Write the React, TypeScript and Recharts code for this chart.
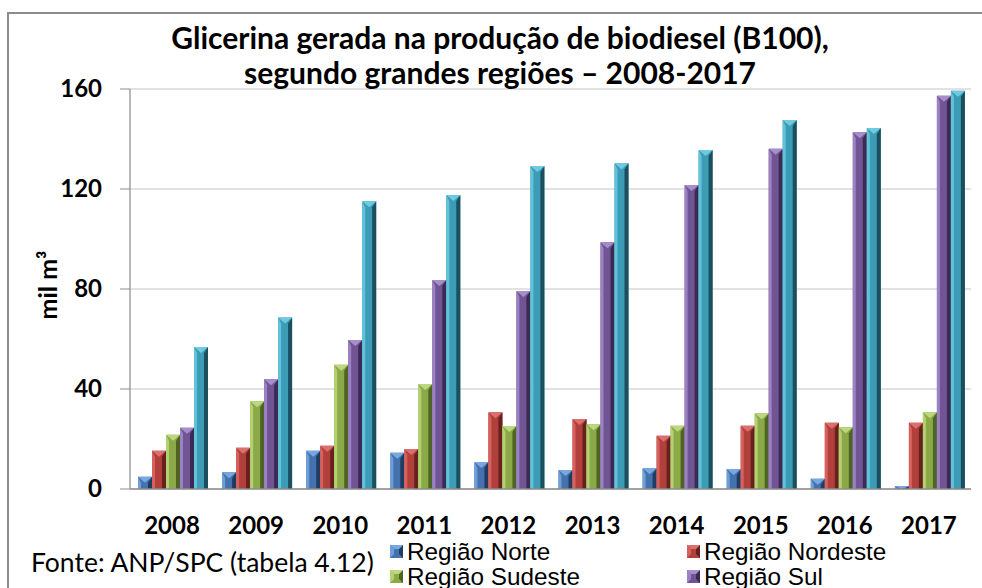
import React from 'react';
import { BarChart, Bar, XAxis, YAxis, CartesianGrid } from 'recharts';

const years = ['2008', '2009', '2010', '2011', '2012', '2013', '2014', '2015', '2016', '2017'];
const norte = [4.9, 6.7, 15.3, 14.5, 10.8, 7.6, 8.3, 8.0, 4.1, 1.2];
const nordeste = [15.3, 16.5, 17.3, 16.0, 30.7, 28.0, 21.3, 25.3, 26.5, 26.5];
const sudeste = [21.7, 35.1, 49.7, 42.0, 25.2, 25.9, 25.3, 30.3, 24.7, 30.7];
const sul = [24.5, 43.9, 59.6, 83.6, 79.2, 98.7, 121.6, 136.1, 142.7, 157.3];
const centroOeste = [56.8, 68.6, 115.1, 117.6, 129.2, 130.3, 135.6, 147.6, 144.4, 159.3];

const seriesKeys = ['norte', 'nordeste', 'sudeste', 'sul', 'centroOeste'];
const seriesNames = ['Região Norte', 'Região Nordeste', 'Região Sudeste', 'Região Sul', 'Região Centro-Oeste'];
const yTicks = [0, 40, 80, 120, 160];

const title1 = 'Glicerina gerada na produção de biodiesel (B100),';
const title2 = 'segundo grandes regiões – 2008-2017';
const yLabel = 'mil m³';
const source = 'Fonte: ANP/SPC (tabela 4.12)';

const palette = [
  { light: '#6F9FD9', body: '#4572AC', dark: '#213C63', top: '#79A8E0' },
  { light: '#D6625E', body: '#B13F3C', dark: '#66201E', top: '#DB716C' },
  { light: '#B3D072', body: '#8BAA47', dark: '#4D6424', top: '#BCD780' },
  { light: '#9C82C2', body: '#705494', dark: '#3B2A52', top: '#A68DCB' },
  { light: '#62C2DB', body: '#3C9BB5', dark: '#1B4F5E', top: '#6FCAE1' },
];

const data = years.map((y, i) => ({
  year: y,
  norte: norte[i],
  nordeste: nordeste[i],
  sudeste: sudeste[i],
  sul: sul[i],
  centroOeste: centroOeste[i],
}));

function BevelBar(props: any) {
  const { x, y, width: w, height: h, pal } = props;
  if (!(h > 0) || !(w > 0)) return null;
  const side = Math.min(3, w / 4);
  const rside = Math.min(4, w / 3);
  const tip = Math.min(6, h, w / 2);
  return (
    <g>
      <rect x={x} y={y} width={w} height={h} fill={pal.body} />
      <polygon points={`${x},${y} ${x + side},${y + tip} ${x + side},${y + h} ${x},${y + h}`} fill={pal.light} />
      <polygon points={`${x + w},${y} ${x + w - rside},${y + tip} ${x + w - rside},${y + h} ${x + w},${y + h}`} fill={pal.dark} />
      <polygon points={`${x},${y} ${x + w},${y} ${x + w / 2},${y + tip}`} fill={pal.top} />
    </g>
  );
}

function Marker({ pal }: any) {
  return (
    <svg width={13} height={13} style={{ display: 'inline-block', verticalAlign: 'middle' }}>
      <rect x={0} y={0} width={13} height={13} fill={pal.body} />
      <polygon points="0,0 4,4 4,9 0,13" fill={pal.light} />
      <polygon points="13,0 9,4 9,9 13,13" fill={pal.dark} />
      <polygon points="0,0 13,0 9,4 4,4" fill={pal.top} />
    </svg>
  );
}

const XTick = (props: any) => {
  const { x, payload } = props;
  return (
    <text x={x} y={534} textAnchor="middle" fontFamily="Lato" fontWeight={700} fontSize={24} fill="#000">
      {payload.value}
    </text>
  );
};

const YTick = (props: any) => {
  const { y, payload } = props;
  return (
    <text x={102} y={y + 8} textAnchor="end" fontFamily="Lato" fontWeight={700} fontSize={24} fill="#000">
      {payload.value}
    </text>
  );
};

// The reference legend is clipped by the picture's lower edge: only its first two rows are visible.
const visibleLegend = seriesNames.slice(0, 4);

export default function App() {
  return (
    <div style={{ position: 'absolute', left: 0, top: 0, width: 982, height: 588, overflow: 'hidden', background: '#fff' }}>
      <div style={{ position: 'absolute', left: 7, top: 12, width: 1000, height: 700, border: '2px solid #8c8c8c', boxSizing: 'border-box' }} />
      <BarChart
        width={982}
        height={588}
        data={data}
        margin={{ top: 89, right: 11, left: 0, bottom: 0 }}
        barCategoryGap={8}
        barGap={0}
      >
        <CartesianGrid vertical={false} stroke="#d9d9d9" strokeWidth={1.5} />
        <XAxis dataKey="year" height={99} tick={<XTick />} tickLine={false} axisLine={{ stroke: '#8c8c8c', strokeWidth: 1.5 }} interval={0} />
        <YAxis
          width={130}
          domain={[0, 160]}
          ticks={yTicks}
          tick={<YTick />}
          tickSize={10}
          tickLine={{ stroke: '#8c8c8c' }}
          axisLine={{ stroke: '#a0a0a0', strokeWidth: 1.5 }}
        />
        {seriesKeys.map((k, i) => (
          <Bar
            key={k}
            dataKey={k}
            name={seriesNames[i]}
            isAnimationActive={false}
            fill={palette[i].body}
            shape={(p: any) => <BevelBar {...p} pal={palette[i]} />}
          />
        ))}
      </BarChart>
      <svg style={{ position: 'absolute', left: 0, top: 0 }} width={982} height={588}>
        <text x={500} y={49} textAnchor="middle" fontFamily="Lato" fontWeight={700} fontSize={30} fill="#000">{title1}</text>
        <text x={500} y={84} textAnchor="middle" fontFamily="Lato" fontWeight={700} fontSize={30} fill="#000">{title2}</text>
        <text x={57} y={285} textAnchor="middle" transform="rotate(-90 57 285)" fontFamily="Lato" fontWeight={700} fontSize={25} fill="#000">{yLabel}</text>
        <text x={31} y={572} fontFamily="Lato" fontSize={26.5} fill="#000">{source}</text>
      </svg>
      <div style={{ position: 'absolute', left: 390, top: 537, fontFamily: '"Liberation Sans", Arial, sans-serif', fontSize: 24.3, lineHeight: '25px', color: '#000' }}>
        {visibleLegend.map((n, i) => (
          <div key={n} style={{ position: 'absolute', left: i % 2 === 0 ? 0 : 297, top: Math.floor(i / 2) * 25, whiteSpace: 'nowrap' }}>
            <Marker pal={palette[i]} />
            <span style={{ marginLeft: 4, verticalAlign: 'middle' }}>{n}</span>
          </div>
        ))}
      </div>
    </div>
  );
}
